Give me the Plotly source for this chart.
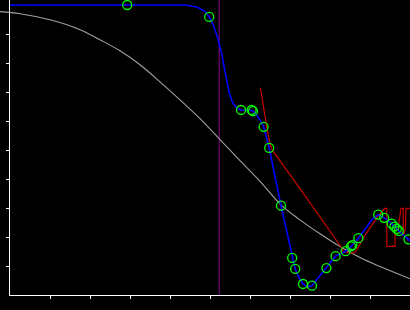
import plotly.graph_objects as go

# ---- data (data units; x axis 0..10, y axis 0..~10.2) ----
gray_x = [-0.25, 0.25, 1.0, 1.75, 2.25, 2.75, 3.25, 3.75, 4.25, 4.75, 5.25, 5.75,
          6.25, 6.775, 7.25, 7.75, 8.25, 8.75, 9.25, 10.0]
gray_y = [9.77, 9.70, 9.49, 9.15, 8.80, 8.42, 7.94, 7.35, 6.73, 6.08, 5.36, 4.63,
          3.92, 3.11, 2.59, 2.11, 1.67, 1.29, 0.98, 0.56]

blue_x = [0.0, 2.93, 4.375, 4.67, 4.875, 4.98, 5.08, 5.18, 5.23, 5.29, 5.35, 5.42,
          5.48, 5.57, 5.67, 5.775, 5.925, 6.05, 6.125, 6.25, 6.34, 6.41, 6.48,
          6.775, 7.055, 7.13, 7.225, 7.325, 7.425, 7.55, 7.725, 7.91, 8.14, 8.39,
          8.55, 8.71, 8.875, 9.05, 9.205, 9.355, 9.54, 9.72, 9.96, 10.05]
blue_y = [10.0, 10.0, 10.0, 9.93, 9.78, 9.59, 9.32, 8.92, 8.69, 8.34, 7.88, 7.42,
          6.97, 6.62, 6.45, 6.38, 6.37, 6.36, 6.28, 6.04, 5.80, 5.46, 5.07,
          3.08, 1.28, 0.90, 0.60, 0.38, 0.29, 0.32, 0.63, 0.93, 1.34, 1.51,
          1.70, 1.96, 2.29, 2.60, 2.77, 2.66, 2.46, 2.21, 1.92, 1.80]

mark_x = [2.93, 4.98, 5.775, 6.04, 6.075, 6.34, 6.48, 6.775, 7.055, 7.13, 7.325,
          7.55, 7.91, 8.14, 8.39, 8.525, 8.56, 8.71, 9.205, 9.355, 9.54, 9.61,
          9.67, 9.72, 9.96]
mark_y = [10.0, 9.59, 6.38, 6.38, 6.34, 5.80, 5.07, 3.08, 1.28, 0.90, 0.38,
          0.32, 0.93, 1.34, 1.51, 1.68, 1.72, 1.96, 2.77, 2.66, 2.46, 2.36,
          2.28, 2.21, 1.92]

red_x = [6.26, 6.31, 6.36, 6.43, 6.50, 6.55, 7.25, 8.0, 8.29, 8.325, 8.5, 8.625,
         8.9, 9.2, 9.375, 9.42, 9.42, 9.625, 9.625, 9.7, 9.775, 9.83, 9.83,
         9.88, 9.9, 10.05]
red_y = [7.15, 6.68, 6.28, 5.70, 5.24, 5.01, 3.67, 2.18, 1.63, 1.51, 1.44, 1.46,
         2.11, 2.73, 2.99, 2.99, 1.68, 1.68, 2.25, 2.25, 2.99, 2.99, 2.03,
         2.25, 2.99, 2.99]

vline_x = 5.23
tick_vals = [1, 2, 3, 4, 5, 6, 7, 8, 9]

Y_TOP = 295 / 29

fig = go.Figure()
fig.add_trace(go.Scatter(x=[vline_x, vline_x], y=[0, Y_TOP], mode="lines",
                         line=dict(color="#8a0090", width=1), xaxis="x", yaxis="y",
                         hoverinfo="skip"))
fig.add_trace(go.Scatter(x=gray_x, y=gray_y, mode="lines", line_shape="spline",
                         line=dict(color="#a0a0a0", width=1.1), xaxis="x2", yaxis="y2"))
fig.add_trace(go.Scatter(x=red_x, y=red_y, mode="lines",
                         line=dict(color="#c80000", width=1.2), xaxis="x2", yaxis="y2"))
fig.add_trace(go.Scatter(x=blue_x, y=blue_y, mode="lines",
                         line=dict(color="#0000ff", width=1.6), xaxis="x2", yaxis="y2"))
fig.add_trace(go.Scatter(x=mark_x, y=mark_y, mode="markers", cliponaxis=False,
                         marker=dict(symbol="circle-open", size=9, color="#00ff00",
                                     line=dict(color="#00ff00", width=1.3)),
                         xaxis="x2", yaxis="y2"))

axis_style = dict(showline=True, linecolor="white", linewidth=1, ticks="outside",
                  ticklen=3, tickwidth=1, tickcolor="white", showticklabels=False,
                  showgrid=False, zeroline=False, tickvals=tick_vals, fixedrange=True)

fig.update_layout(
    width=410, height=310,
    margin=dict(l=0, r=0, t=0, b=15, pad=0),
    paper_bgcolor="black", plot_bgcolor="rgba(0,0,0,0)",
    showlegend=False,
    xaxis=dict(domain=[10 / 410, 1], range=[0, 10], anchor="y", **axis_style),
    yaxis=dict(domain=[0, 1], range=[0, Y_TOP], anchor="x", **axis_style),
    xaxis2=dict(domain=[0, 1], range=[-0.25, 10], anchor="y2", visible=False),
    yaxis2=dict(domain=[0, 1], range=[0, Y_TOP], anchor="x2", visible=False),
)

fig.write_html("out.html", config={"displayModeBar": False})
